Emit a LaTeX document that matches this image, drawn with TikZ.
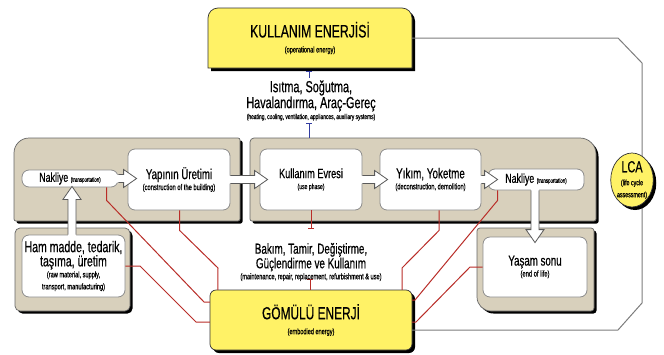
\documentclass[tikz,border=0pt]{standalone}
\usepackage{fontspec}
\setmainfont[FakeStretch=0.68, FakeBold=0.5]{Liberation Sans}
\usetikzlibrary{calc,shapes.geometric,arrows.meta}
\definecolor{beige}{RGB}{216,208,188}
\definecolor{yel}{RGB}{255,242,102}
\definecolor{redl}{RGB}{185,45,40}
\definecolor{bluel}{RGB}{50,60,160}
\definecolor{framec}{RGB}{125,125,125}
\definecolor{arrc}{RGB}{90,90,90}
\newcommand\fs[2]{\fontsize{#1}{#2}\selectfont}
\tikzset{
  shad/.style={preaction={fill=black, transform canvas={shift={(#1,-#1)}}}},
  panel/.style={fill=beige, draw=black!60, line width=0.7pt, shad=2.5pt},
  wbox/.style={draw=black!45, fill=white, rounded corners=7pt, line width=0.8pt, inner sep=0pt, align=center},
  ybox/.style={draw=black!80, fill=yel, line width=0.7pt},
  fatline/.style={draw=arrc, line width=0.8pt, line join=miter},
  redline/.style={draw=redl, line width=1pt},
  blueline/.style={draw=bluel, line width=1pt},
  frameline/.style={draw=framec, line width=1pt},
  lbl/.style={align=center, inner sep=0pt},
}
\newcommand\fatH[2]{%
  \fill[white] let \p1=(#1), \p2=(#2) in (\x1-1.5pt,\y1+4pt) -- (\x2-13pt,\y1+4pt) -- (\x2-13pt,\y1+9pt) -- (\x2,\y1) -- (\x2-13pt,\y1-9pt) -- (\x2-13pt,\y1-4pt) -- (\x1-1.5pt,\y1-4pt) -- cycle;
  \draw[fatline] let \p1=(#1), \p2=(#2) in (\x1,\y1+4pt) -- (\x2-13pt,\y1+4pt) -- (\x2-13pt,\y1+9pt) -- (\x2,\y1) -- (\x2-13pt,\y1-9pt) -- (\x2-13pt,\y1-4pt) -- (\x1,\y1-4pt);}
\newcommand\fatU[2]{%
  \fill[white] let \p1=(#1), \p2=(#2) in (\x1-4pt,\y1-1.5pt) -- (\x1-4pt,\y2-13pt) -- (\x1-9pt,\y2-13pt) -- (\x1,\y2) -- (\x1+9pt,\y2-13pt) -- (\x1+4pt,\y2-13pt) -- (\x1+4pt,\y1-1.5pt) -- cycle;
  \draw[fatline] let \p1=(#1), \p2=(#2) in (\x1-4pt,\y1) -- (\x1-4pt,\y2-13pt) -- (\x1-9pt,\y2-13pt) -- (\x1,\y2) -- (\x1+9pt,\y2-13pt) -- (\x1+4pt,\y2-13pt) -- (\x1+4pt,\y1);}
\newcommand\fatD[2]{%
  \fill[white] let \p1=(#1), \p2=(#2) in (\x1-4pt,\y1+1.5pt) -- (\x1-4pt,\y2+13pt) -- (\x1-9pt,\y2+13pt) -- (\x1,\y2) -- (\x1+9pt,\y2+13pt) -- (\x1+4pt,\y2+13pt) -- (\x1+4pt,\y1+1.5pt) -- cycle;
  \draw[fatline] let \p1=(#1), \p2=(#2) in (\x1-4pt,\y1) -- (\x1-4pt,\y2+13pt) -- (\x1-9pt,\y2+13pt) -- (\x1,\y2) -- (\x1+9pt,\y2+13pt) -- (\x1+4pt,\y2+13pt) -- (\x1+4pt,\y1);}
\begin{document}
\begin{tikzpicture}[x=1pt,y=-1pt]
\useasboundingbox (0,0) rectangle (664,354);
\fill[white] (0,0) rectangle (664,354);

% panels
\path[panel] (14,221) [rounded corners=2pt] -- (14,170) [rounded corners=15pt] -- (14,138) -- (60,138) [rounded corners=2pt] -- (240,138) -- (240,221) -- cycle;
\path[panel] (250,221) [rounded corners=4pt] -- (250,138) -- (550,138) [rounded corners=16pt] -- (596,138) -- (596,180) [rounded corners=2pt] -- (596,221) -- cycle;
\path[panel, rounded corners=5pt] (15,228) rectangle (130,311);
\path[panel] (477,260) [rounded corners=14pt] -- (477,311) -- (540,311) [rounded corners=3pt] -- (594,311) -- (594,228) -- (477,228) -- cycle;

% yellow box shapes
\path[ybox, shad=3pt] (208,68) [sharp corners] -- (208,40) [rounded corners=10pt] -- (208,8) -- (412,8) -- (412,40) [sharp corners] -- (412,68) -- cycle;
\path[ybox, shad=3pt, rounded corners=6pt] (210,290) rectangle (412,350);

% nodes
\node[lbl, minimum width=204pt, minimum height=60pt] (kul) at (310,38)
  {\fs{18}{18}KULLANIM ENERJİSİ\\[3pt]\fs{8.3}{9}(operational energy)};
\node[lbl, minimum width=202pt, minimum height=60pt] (gom) at (311,320)
  {\fs{17.5}{18}GÖMÜLÜ ENERJİ\\[3pt]\fs{8.2}{9}(embodied energy)};

\node[wbox, minimum width=96pt, minimum height=17pt] (nakL) at (70,178.5)
  {\fs{13}{14}Nakliye {\fs{6.5}{7}(transportation)}};
\node[wbox, minimum width=102pt, minimum height=61pt] (yap) at (179,179.5)
  {\fs{14.3}{15}Yapının Üretimi\\[-1pt]\fs{8.5}{9}(construction of the building)};
\node[wbox, minimum width=102pt, minimum height=61pt] (kev) at (311,179.5)
  {\fs{13.5}{15}Kullanım Evresi\\[-1pt]\fs{7.5}{9}(use phase)};
\node[wbox, minimum width=101pt, minimum height=61pt] (yik) at (430.5,179.5)
  {\fs{14.5}{15}Yıkım, Yoketme\\[-1pt]\fs{8.4}{9}(deconstruction, demolition)};
\node[wbox, minimum width=96pt, minimum height=21pt] (nakR) at (536,179.5)
  {\fs{13}{14}Nakliye {\fs{6.5}{7}(transportation)}};
\node[wbox, minimum width=103pt, minimum height=62pt] (ham) at (73.5,266)
  {\fs{15.5}{17}Ham madde, tedarik,\\\fs{15.5}{17}taşıma, üretim\\[-1pt]\fs{8.3}{9}(raw material, supply,\\\fs{8.3}{9}transport, manufacturing)};
\node[wbox, minimum width=104pt, minimum height=60pt] (yas) at (535,267)
  {\fs{14.3}{15}Yaşam sonu\\[-1pt]\fs{8.5}{9}(end of life)};

% hollow arrows
\fatH{nakL.east}{$(yap.west)+(9,0)$}
\fatH{yap.east}{$(kev.west)+(8,0)$}
\fatH{kev.east}{$(yik.west)+(8,0)$}
\fatH{yik.east}{$(nakR.west)+(10,0)$}
\fatU{$(ham.north)+(-1.5,0)$}{$(nakL.south)+(0,-1)$}
\fatD{$(nakR.south)+(-1,0)$}{$(yas.north)+(0,6)$}

% red lines to embodied energy
\draw[redline] ($(nakL.south west)+(85,0)$) -- ++(0,13) -- (204,302) -- ($(gom.west)+(0,-18)$);
\draw[redline] ($(yap.south west)+(52,0)$) -- ++(0,20) -- (218,268) -- ($(gom.north west)+(8,0)$);
\draw[redline] (ham.east) -- (140,266) -- (196,322) -- ($(gom.west)+(0,2)$);
\draw[redline] ($(yik.south west)+(59.5,0)$) -- ++(0,20) -- (402,268) -- ($(gom.north east)+(-10,0)$);
\draw[redline] ($(nakR.south west)+(10,0)$) -- ++(0,10) -- (415,300) -- ($(gom.east)+(0,-20)$);
\draw[redline] (yas.west) -- (470,267) -- (416,322) -- ($(gom.east)+(0,2)$);
\draw[redline, -{Bar[width=6pt]}] (kev.south) -- ++(0,19);
\draw[redline, -{Bar[width=6pt]}] ($(gom.north)+(-1,0)$) -- ++(0,-11);

% blue lines
\coordinate (ptop) at (309,138);
\draw[blueline, {Bar[width=6pt]}-] ($(kul.south)+(-1,3)$) -- ++(0,7);
\draw[blueline, -{Bar[width=6pt]}] (ptop) -- ++(0,-15);

% texts between
\node[lbl] (heat) at (311,100.5)
  {\fs{16}{17}Isıtma, Soğutma,\\\fs{16}{17}Havalandırma, Araç-Gereç\\[-1pt]\fs{7.2}{8}(heating, cooling, ventilation, appliances, auxiliary systems)};
\node[lbl] (maint) at (311,262)
  {\fs{14.5}{16}Bakım, Tamir, Değiştirme,\\\fs{14.5}{16}Güçlendirme ve Kullanım\\[-1pt]\fs{8.3}{9}(maintenance, repair, replacement, refurbishment \& use)};

% LCA frame
\draw[frameline] (kul.east) -- (618,38) -- (642,63) -- (642,303) -- (618,330) -- ($(gom.east)+(0,10)$);
\node[ellipse, ybox, shad=3pt, minimum width=40pt, minimum height=54pt, inner sep=0pt, align=center] (lca) at (632,180)
  {\fs{16}{16}LCA\\[1pt]\fs{7.8}{8.5}(life cycle\\\fs{7.8}{8.5}assessment)};
\end{tikzpicture}
\end{document}
